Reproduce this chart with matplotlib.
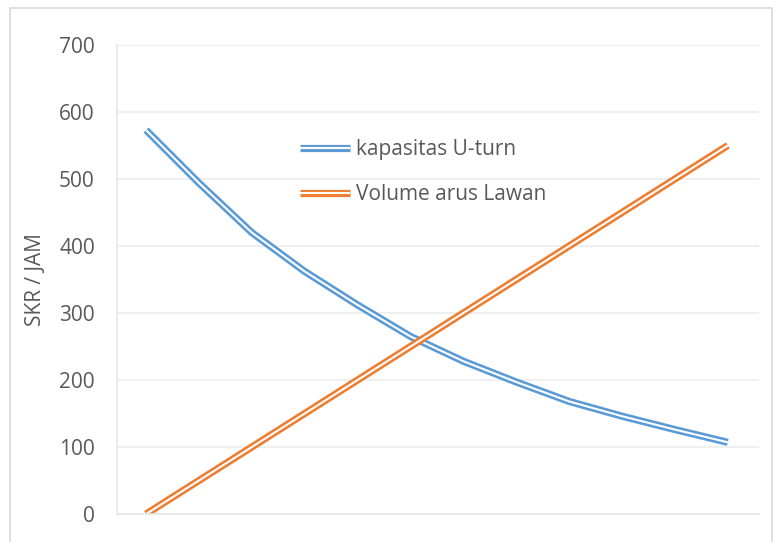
import matplotlib.pyplot as plt
import matplotlib.patheffects as pe
from matplotlib.patches import Rectangle

plt.rcParams['font.family'] = ['Open Sans', 'DejaVu Sans']

# Data series (SKR/jam), 12 points along the category axis
points = list(range(12))
kapasitas_uturn = [573, 494, 420, 362, 312, 265, 228, 197, 168, 146, 126, 107]
volume_arus_lawan = [0, 50, 100, 150, 200, 250, 300, 350, 400, 450, 500, 550]

blue = '#5b9bd5'
orange = '#ed7d31'
text_gray = '#595959'
grid_gray = '#ececec'
lw_outer = 5.2
lw_gap = 1.5


def double_line(color):
    # outer stroke in the series colour with a white core -> two thin strands
    return [pe.Stroke(linewidth=lw_outer, foreground=color, capstyle='butt'),
            pe.Stroke(linewidth=lw_gap, foreground='white', capstyle='butt')]


fig = plt.figure(figsize=(7.79, 5.42), dpi=100)
W, H = 779, 542
ax = fig.add_axes([117 / W, (H - 514) / H, 642 / W, 469 / H])

ax.plot(points, kapasitas_uturn, color=blue, linewidth=lw_outer,
        path_effects=double_line(blue), label='kapasitas U-turn',
        solid_joinstyle='round')
ax.plot(points, volume_arus_lawan, color=orange, linewidth=lw_outer,
        path_effects=double_line(orange), label='Volume arus Lawan',
        solid_joinstyle='round')

ax.set_xlim(-0.55, 11.59)
ax.set_ylim(0, 700)
ax.set_yticks(range(0, 701, 100))
ax.set_xticks([])
ax.grid(axis='y', color=grid_gray, linewidth=1.2)
ax.set_axisbelow(True)
for side in ['top', 'right']:
    ax.spines[side].set_visible(False)
for side in ['bottom', 'left']:
    ax.spines[side].set_color('#e6e6e6')
    ax.spines[side].set_linewidth(1.2)
ax.tick_params(axis='y', length=0, pad=16, labelsize=15, labelcolor=text_gray)

ax.set_ylabel('SKR / JAM', fontsize=15, color=text_gray)
ax.yaxis.set_label_coords((46 - 117) / 642, 0.5)

leg = ax.legend(loc='center left', bbox_to_anchor=(300 / W, (H - 172) / H),
                bbox_transform=fig.transFigure, frameon=False, fontsize=15,
                borderpad=0, borderaxespad=0,
                handlelength=2.4, handletextpad=0.3, labelspacing=1.15)
for t in leg.get_texts():
    t.set_color(text_gray)

# chart area border
fig.patches.append(Rectangle((10 / W, -0.1), (772 - 10) / W, (H - 8) / H + 0.1,
                             transform=fig.transFigure, fill=False,
                             edgecolor='#d9d9d9', linewidth=1.2))

fig.savefig('out.png', dpi=100)
